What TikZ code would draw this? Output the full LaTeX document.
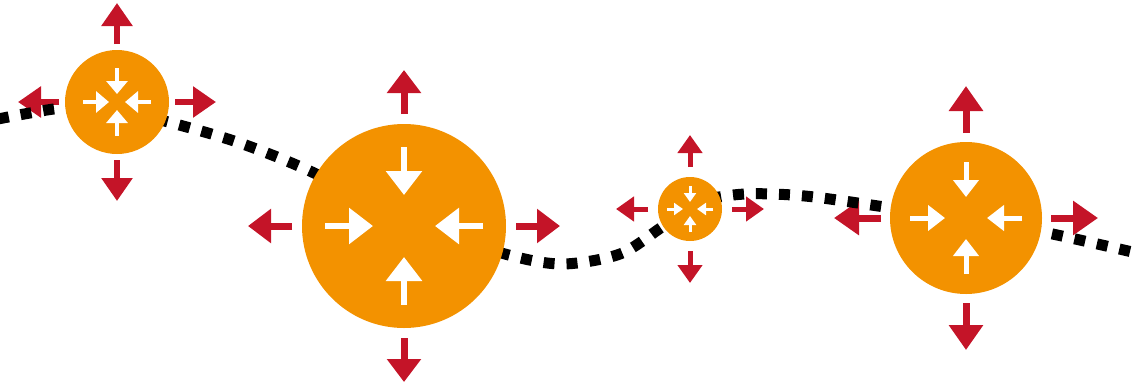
\documentclass[tikz,border=0pt]{standalone}
\usetikzlibrary{arrows.meta}
\definecolor{cellorange}{RGB}{243,146,0}
\definecolor{pushred}{RGB}{196,20,40}
\begin{document}
\begin{tikzpicture}[x=1pt,y=-1pt,
  cell/.style={circle,fill=cellorange,inner sep=0pt,minimum size=#1},
  outward/.style={draw=pushred,line width=#1},
  inward/.style={draw=white,line width=#1},
  trail/.style={black,line width=11pt,dash pattern=on 11pt off 12pt}]
\useasboundingbox (0,0) rectangle (1141,389);
% centres of the four cells
\coordinate (c1) at (117,102);
\coordinate (c2) at (404,226);
\coordinate (c3) at (690,209);
\coordinate (c4) at (966,218);
% red arrows pushing outwards
\foreach \cell/\ta/\tb/\hw/\hl/\sw in {c1/58/99/30pt/23pt/6pt, c2/112/156/33pt/23pt/7pt,
                                      c3/42/74/24pt/18pt/5pt, c4/85/132/33pt/25pt/7pt} {
  \foreach \a in {0,90,180,270}
    \draw[outward=\sw,-{Triangle[width=\hw,length=\hl]}]
      ([shift={(\a:\ta)}]\cell) -- ([shift={(\a:\tb)}]\cell);
}
% dotted wave behind the cells
\draw[trail] plot[smooth] coordinates {(-2,119) (30,113) (65,108) (117,110) (172,123)
  (240,143) (312,172) (410,222) (505,254) (562,264) (620,254) (662,227) (700,202)
  (745,194) (805,196) (885,207) (966,219) (1043,232) (1141,254)};
% the cells
\foreach \cell/\d in {c1/104pt, c2/204pt, c3/64pt, c4/152pt}
  \node[cell=\d] (b\cell) at (\cell) {};
% white arrows pointing inwards
\foreach \cell/\ta/\tb/\hw/\hl/\sw in {c1/34/8/21pt/13pt/4pt, c2/79/31/35pt/24pt/6pt,
                                      c3/23/7/12pt/9pt/3pt, c4/56/21/25pt/17pt/5pt} {
  \foreach \a in {0,90,180,270}
    \draw[inward=\sw,-{Triangle[width=\hw,length=\hl]}]
      ([shift={(\a:\ta)}]b\cell.center) -- ([shift={(\a:\tb)}]b\cell.center);
}
\end{tikzpicture}
\end{document}
